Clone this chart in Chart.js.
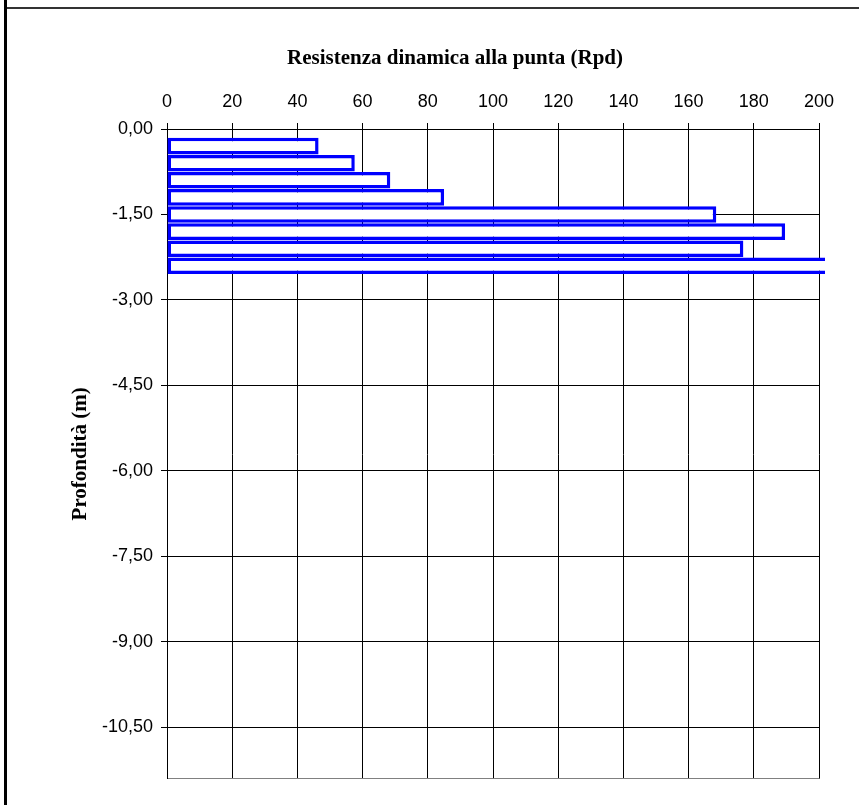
<!DOCTYPE html>
<html>
<head>
<meta charset="utf-8">
<title>Resistenza dinamica alla punta (Rpd)</title>
<script src="https://cdn.jsdelivr.net/npm/chart.js@4.4.0/dist/chart.umd.min.js"></script>
<style>
  html, body { margin: 0; padding: 0; background: #fff; }
  #cornice { position: relative; width: 859px; height: 805px; overflow: hidden; }
  #grafico { position: absolute; left: 0; top: 0; }
  .bordo-sx { position: absolute; left: 4px; top: 0; width: 3px; height: 805px; background: #000; }
  .bordo-su { position: absolute; left: 7px; top: 7px; width: 852px; height: 2px; background: #333; }
</style>
</head>
<body>
<div id="cornice">
  <canvas id="grafico" width="859" height="805"></canvas>
  <div class="bordo-sx"></div>
  <div class="bordo-su"></div>
</div>
<script>
// Dati (profondità in m, resistenza Rpd)
const profondita = [-0.3, -0.6, -0.9, -1.2, -1.5, -1.8, -2.1, -2.4]
const rpd = [46.5, 57.6, 68.5, 85.0, 168.5, 189.6, 176.8, 215]
const tickProfondita = [0, -1.5, -3, -4.5, -6, -7.5, -9, -10.5]
const minProfondita = -11.4
const tickRpd = [0, 20, 40, 60, 80, 100, 120, 140, 160, 180, 200]
const titolo = 'Resistenza dinamica alla punta (Rpd)'
const titoloAsseY = 'Profondità (m)'

const fontTick = { family: "'Liberation Sans', Arial, sans-serif", size: 18 }
const fontTitolo = { family: "'Liberation Serif', 'Times New Roman', serif", size: 21, weight: 'bold' }

// Formato con la virgola come nel foglio originale
function formatoProfondita(valore) {
  if (!tickProfondita.includes(valore)) return ''
  return valore.toFixed(2).replace('.', ',')
}

const dati = {
  datasets: [{
    data: profondita.map((p, i) => ({ x: rpd[i], y: p })),
    backgroundColor: '#ffffff',
    borderColor: '#0000ff',
    borderWidth: 3.5,
    borderSkipped: false,
    barPercentage: 0.97,
    categoryPercentage: 1,
    clip: 6
  }]
}

const config = {
  type: 'bar',
  data: dati,
  options: {
    indexAxis: 'y',
    responsive: false,
    animation: false,
    layout: { padding: { left: 91, right: 40, top: 0, bottom: 26.3 } },
    plugins: {
      legend: { display: false },
      tooltip: { enabled: false },
      title: {
        display: true,
        text: titolo,
        color: '#000',
        font: fontTitolo,
        padding: { top: 46, bottom: 8 }
      }
    },
    scales: {
      x: {
        type: 'linear',
        position: 'top',
        min: tickRpd[0],
        max: tickRpd[tickRpd.length - 1],
        afterBuildTicks: scale => { scale.ticks = tickRpd.map(v => ({ value: v })) },
        afterFit: scale => { scale.height = 49.8 },
        ticks: { color: '#000', font: fontTick, padding: 10, maxRotation: 0 },
        grid: { color: '#000', tickColor: '#000', tickLength: 6, lineWidth: 1 },
        border: { color: '#000', width: 1 }
      },
      y: {
        type: 'linear',
        position: 'left',
        min: minProfondita,
        max: 0,
        offset: false,
        afterBuildTicks: scale => {
          scale.ticks = tickProfondita.concat([minProfondita]).map(v => ({ value: v }))
        },
        afterFit: scale => { scale.width = 76 },
        ticks: { color: '#000', font: fontTick, padding: 8, callback: formatoProfondita },
        grid: {
          offset: false,
          color: ctx => (ctx.tick && ctx.tick.value === minProfondita ? '#808080' : '#000'),
          tickColor: ctx => (ctx.tick && ctx.tick.value === minProfondita ? 'rgba(0,0,0,0)' : '#000'),
          tickLength: 6,
          lineWidth: 1
        },
        border: { color: '#000', width: 1 },
        title: {
          display: true,
          text: titoloAsseY,
          color: '#000',
          font: fontTitolo,
          padding: { top: -23, bottom: 0 }
        }
      }
    }
  }
}

new Chart(document.getElementById('grafico'), config)
</script>
</body>
</html>
